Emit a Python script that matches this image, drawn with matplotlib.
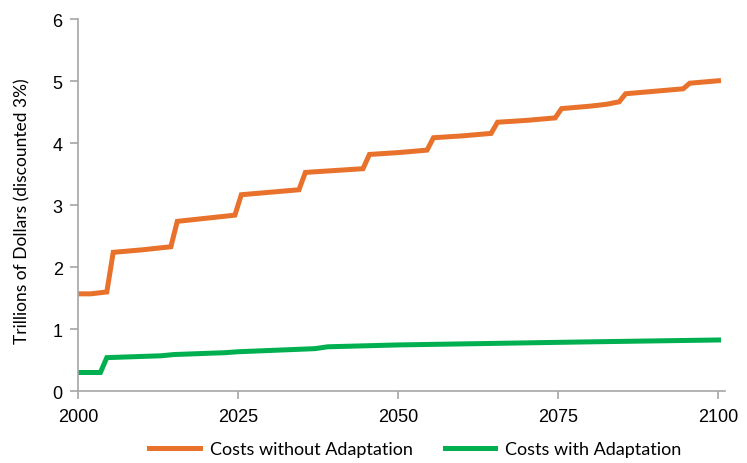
import matplotlib
matplotlib.use("Agg")
import matplotlib.pyplot as plt

# Costs without adaptation
years_without = [2000, 2002, 2004.5, 2005.5, 2010, 2014.5, 2015.5, 2020, 2024.5, 2025.5,
                 2030, 2034.5, 2035.5, 2040, 2044.5, 2045.5, 2050, 2054.5, 2055.5, 2060,
                 2064.5, 2065.5, 2070, 2074.5, 2075.5, 2080, 2082.5, 2084.5, 2085.5, 2090,
                 2094.5, 2095.5, 2100]
costs_without = [1.57, 1.57, 1.60, 2.24, 2.28, 2.33, 2.74, 2.79, 2.84, 3.17,
                 3.21, 3.25, 3.53, 3.56, 3.59, 3.82, 3.85, 3.89, 4.09, 4.12,
                 4.16, 4.34, 4.37, 4.41, 4.56, 4.60, 4.63, 4.67, 4.80, 4.84,
                 4.88, 4.97, 5.01]

# Costs with adaptation
years_with = [2000, 2003.5, 2004.5, 2013, 2015, 2023, 2025, 2037, 2039, 2050,
              2065, 2080, 2100]
costs_with = [0.30, 0.30, 0.54, 0.57, 0.59, 0.62, 0.635, 0.685, 0.715, 0.745,
              0.77, 0.795, 0.825]

x_ticks = [2000, 2025, 2050, 2075, 2100]
y_ticks = [0, 1, 2, 3, 4, 5, 6]

orange = "#E8712B"
green = "#00B050"
axis_grey = "#A6A6A6"

fig = plt.figure(figsize=(7.47, 4.64), dpi=100)
ax = fig.add_axes([0.1044, 0.155, 0.866, 0.801])

ax.plot(years_without, costs_without, color=orange, linewidth=3.6,
        solid_joinstyle="miter", label="Costs without Adaptation")
ax.plot(years_with, costs_with, color=green, linewidth=3.6,
        solid_joinstyle="miter", label="Costs with Adaptation")

ax.set_xlim(2000, 2101)
ax.set_ylim(0, 6)
ax.set_xticks(x_ticks)
ax.set_yticks(y_ticks)

for side in ["top", "right"]:
    ax.spines[side].set_visible(False)
for side in ["left", "bottom"]:
    ax.spines[side].set_color(axis_grey)
    ax.spines[side].set_linewidth(1.2)

ax.tick_params(axis="both", colors=axis_grey, length=6, width=1.2, direction="out")
ax.tick_params(axis="y", pad=5)
ax.tick_params(axis="x", pad=6)
for lbl in ax.get_xticklabels() + ax.get_yticklabels():
    lbl.set_color("black")
    lbl.set_fontfamily("Liberation Sans")
    lbl.set_fontsize(13)

ax.set_ylabel("Trillions of Dollars (discounted 3%)", fontsize=12.5, fontfamily="Lato")
ax.yaxis.set_label_coords(-0.073, 0.488)

fig.legend(loc="lower center", bbox_to_anchor=(0.556, -0.022), ncol=2, frameon=False,
           prop={"family": "Lato", "size": 13}, handlelength=2.8, columnspacing=1.8,
           handletextpad=0.55)

fig.savefig("out.png", dpi=100)
